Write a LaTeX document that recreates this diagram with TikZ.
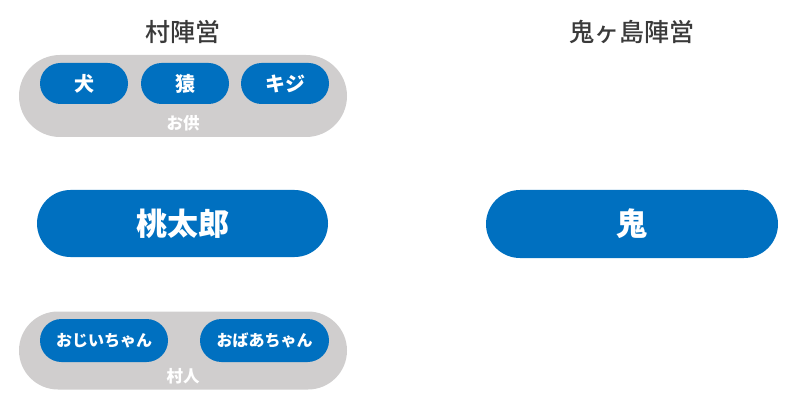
\documentclass[tikz,border=0pt]{standalone}
\usepackage{fontspec}
\setmainfont{Noto Sans CJK JP}
\newfontfamily\titlefont{Noto Sans CJK JP Medium}
\definecolor{pillblue}{HTML}{0070C0}
\definecolor{groupgray}{HTML}{D0CECE}
\definecolor{titlegray}{HTML}{3A3A3A}
\begin{document}
\begin{tikzpicture}[x=1pt,y=-1pt,
  pill/.style={fill=pillblue,text=white,inner sep=0pt,font=\bfseries\fontsize{#1}{#1}\selectfont},
  group/.style={fill=groupgray,inner sep=0pt},
  grouplabel/.style={text=white,inner sep=0pt,font=\bfseries\fontsize{16.5}{16.5}\selectfont},
  title/.style={text=titlegray,inner sep=0pt,font=\titlefont\fontsize{25}{25}\selectfont}]
\useasboundingbox (0,0) rectangle (800,406);
% titles
\node[title] (t1) at (183,32) {村陣営};
\node[title] (t2) at (632,32) {鬼ヶ島陣営};
% top group
\node[group,minimum width=328pt,minimum height=82pt,rounded corners=41pt] (g1) at (183,96) {};
\node[pill=20,minimum width=88pt,minimum height=41pt,rounded corners=20.5pt] (inu) at (84,83.5) {犬};
\node[pill=20,minimum width=88pt,minimum height=41pt,rounded corners=20.5pt] (saru) at (185,83.5) {猿};
\node[pill=20,minimum width=88pt,minimum height=41pt,rounded corners=20.5pt] (kiji) at (285,83.5) {キジ};
\node[grouplabel] (l1) at (183,123) {お供};
% main
\node[pill=31,minimum width=291pt,minimum height=67pt,rounded corners=33.5pt] (momo) at (182.5,223.5) {桃太郎};
\node[pill=31,minimum width=292pt,minimum height=68pt,rounded corners=34pt] (oni) at (632,224) {鬼};
% bottom group
\node[group,minimum width=328pt,minimum height=78pt,rounded corners=39pt] (g2) at (183,350.5) {};
\node[pill=16,minimum width=128pt,minimum height=43pt,rounded corners=21.5pt] (ojii) at (104,340.5) {おじいちゃん};
\node[pill=16,minimum width=129pt,minimum height=43pt,rounded corners=21.5pt] (obaa) at (264.5,340.5) {おばあちゃん};
\node[grouplabel] (l2) at (183,376) {村人};
\end{tikzpicture}
\end{document}
